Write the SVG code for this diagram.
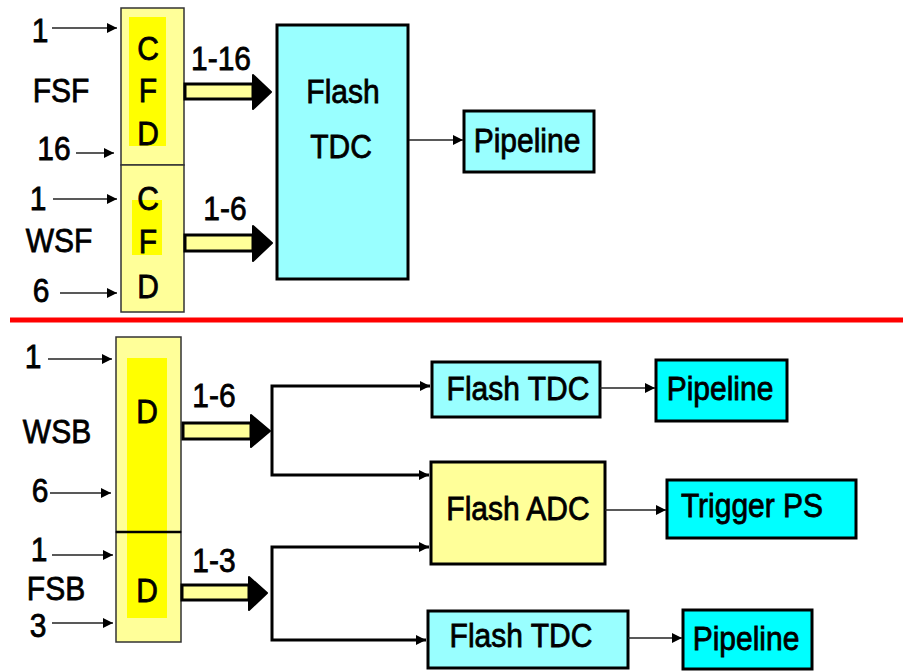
<svg xmlns="http://www.w3.org/2000/svg" width="903" height="671" viewBox="0 0 903 671">
<defs>
<style>
.t{font-family:"Liberation Sans",Arial,sans-serif;font-size:30px;fill:#000;stroke:#000;stroke-width:0.7px;text-anchor:middle}
.outer{fill:#ffff99;stroke:#333;stroke-width:1.5}
.inner{fill:#ffff00;stroke:none}
.cyanL{fill:#99ffff;stroke:#000;stroke-width:3}
.cyan{fill:#00ffff;stroke:#000;stroke-width:3}
.ylw{fill:#ffff99;stroke:#000;stroke-width:3}
.thin{fill:none;stroke:#222;stroke-width:1.6}
.wire{fill:none;stroke:#000;stroke-width:3}
.body{fill:#ffff99;stroke:#000;stroke-width:3}
.head{fill:#000;stroke:#000;stroke-width:2;stroke-linejoin:round}
</style>
<marker id="ah" markerUnits="userSpaceOnUse" markerWidth="11" markerHeight="10" refX="10" refY="5" orient="auto">
<path d="M0,0 L10,5 L0,10 z" fill="#000"/>
</marker>
</defs>
<rect width="903" height="671" fill="#fff"/>

<line x1="10" y1="320" x2="903" y2="320" stroke="#ff0000" stroke-width="5"/>

<g id="labels-top">
<text class="t" transform="translate(40,42) scale(1,1.12)">1</text>
<text class="t" transform="translate(61,102) scale(1,1.12)">FSF</text>
<text class="t" transform="translate(54,160) scale(1,1.12)">16</text>
<text class="t" transform="translate(38,210) scale(1,1.12)">1</text>
<text class="t" transform="translate(59,252) scale(1,1.12)">WSF</text>
<text class="t" transform="translate(41,302) scale(1,1.12)">6</text>
</g>

<g id="cfd-fsf">
<rect class="outer" x="121" y="8" width="63" height="157"/>
<rect class="inner" x="129" y="17" width="37" height="129"/>
<text class="t" transform="translate(148,60) scale(1,1.12)">C</text>
<text class="t" transform="translate(148,102) scale(1,1.12)">F</text>
<text class="t" transform="translate(148,145) scale(1,1.12)">D</text>
</g>
<g id="cfd-wsf">
<rect class="outer" x="121" y="165" width="63" height="147"/>
<rect class="inner" x="132" y="200" width="30" height="55"/>
<text class="t" transform="translate(148,210) scale(1,1.12)">C</text>
<text class="t" transform="translate(148,253) scale(1,1.12)">F</text>
<text class="t" transform="translate(148,298) scale(1,1.12)">D</text>
</g>

<g id="flash-tdc-top">
<rect class="cyanL" x="277" y="25" width="131" height="254"/>
<text class="t" transform="translate(343,103) scale(1,1.12)">Flash</text>
<text class="t" transform="translate(341,158) scale(1,1.12)">TDC</text>
</g>
<g id="pipeline-top">
<rect class="cyanL" x="464" y="111" width="130" height="61"/>
<text class="t" transform="translate(527,152) scale(1,1.12)">Pipeline</text>
</g>

<g id="labels-bottom">
<text class="t" transform="translate(33,368) scale(1,1.12)">1</text>
<text class="t" transform="translate(57,443) scale(1,1.12)">WSB</text>
<text class="t" transform="translate(40,502) scale(1,1.12)">6</text>
<text class="t" transform="translate(39,561) scale(1,1.12)">1</text>
<text class="t" transform="translate(56,600) scale(1,1.12)">FSB</text>
<text class="t" transform="translate(38,637) scale(1,1.12)">3</text>
</g>

<g id="d-wsb">
<rect class="outer" x="116" y="337" width="65" height="195"/>
<rect class="inner" x="127" y="358" width="40" height="174"/>
<text class="t" transform="translate(147,423) scale(1,1.12)">D</text>
</g>
<g id="d-fsb">
<rect class="outer" x="116" y="532" width="65" height="110"/>
<rect class="inner" x="127" y="533" width="40" height="85"/>
<text class="t" transform="translate(147,602) scale(1,1.12)">D</text>
<line x1="116" y1="532" x2="181" y2="532" stroke="#000" stroke-width="2.5"/>
</g>

<g id="flash-tdc-1">
<rect class="cyanL" x="432" y="362" width="168" height="55"/>
<text class="t" transform="translate(518,400) scale(1,1.12)">Flash TDC</text>
</g>
<g id="pipeline-1">
<rect class="cyan" x="656" y="360" width="131" height="61"/>
<text class="t" transform="translate(720,400) scale(1,1.12)">Pipeline</text>
</g>
<g id="flash-adc">
<rect class="ylw" x="431" y="462" width="174" height="102"/>
<text class="t" transform="translate(518,520) scale(1,1.12)">Flash ADC</text>
</g>
<g id="trigger-ps">
<rect class="cyan" x="667" y="480" width="189" height="58"/>
<text class="t" transform="translate(752,517) scale(1,1.12)">Trigger PS</text>
</g>
<g id="flash-tdc-2">
<rect class="cyanL" x="428" y="611" width="200" height="57"/>
<text class="t" transform="translate(521,647) scale(1,1.12)">Flash TDC</text>
</g>
<g id="pipeline-2">
<rect class="cyan" x="683" y="610" width="129" height="59"/>
<text class="t" transform="translate(746,650) scale(1,1.12)">Pipeline</text>
</g>

<g id="connectors">
<line class="thin" x1="52" y1="28" x2="117" y2="28" marker-end="url(#ah)"/>
<line class="thin" x1="76" y1="153" x2="114" y2="153" marker-end="url(#ah)"/>
<line class="thin" x1="53" y1="199" x2="117" y2="199" marker-end="url(#ah)"/>
<line class="thin" x1="60" y1="293" x2="117" y2="293" marker-end="url(#ah)"/>
<line class="thin" x1="48" y1="359" x2="112" y2="359" marker-end="url(#ah)"/>
<line class="thin" x1="50" y1="493" x2="111" y2="493" marker-end="url(#ah)"/>
<line class="thin" x1="52" y1="555" x2="113" y2="555" marker-end="url(#ah)"/>
<line class="thin" x1="52" y1="623" x2="113" y2="623" marker-end="url(#ah)"/>

<g id="bus-1-16">
<rect class="body" x="185" y="84" width="68" height="15"/>
<polygon class="head" points="253,75 271,92 253,109"/>
<text class="t" transform="translate(221,70) scale(1,1.12)">1-16</text>
</g>
<g id="bus-1-6-top">
<rect class="body" x="185" y="235" width="68" height="16"/>
<polygon class="head" points="253,226 272,243 253,261"/>
<text class="t" transform="translate(225,220) scale(1,1.12)">1-6</text>
</g>
<g id="bus-1-6-bottom">
<rect class="body" x="183" y="423" width="68" height="16"/>
<polygon class="head" points="251,415 270,431 251,447"/>
<text class="t" transform="translate(214,407) scale(1,1.12)">1-6</text>
</g>
<g id="bus-1-3">
<rect class="body" x="182" y="585" width="67" height="15"/>
<polygon class="head" points="249,577 267,593 249,610"/>
<text class="t" transform="translate(214,572) scale(1,1.12)">1-3</text>
</g>

<line class="thin" x1="409" y1="140" x2="463" y2="140" marker-end="url(#ah)"/>

<path class="wire" d="M272,431 V386 H430" marker-end="url(#ah)"/>
<path class="wire" d="M272,431 V475 H429" marker-end="url(#ah)"/>
<path class="wire" d="M272,593 V547 H429" marker-end="url(#ah)"/>
<path class="wire" d="M272,593 V640 H426" marker-end="url(#ah)"/>

<line class="thin" x1="600" y1="388" x2="655" y2="388" stroke-width="2" marker-end="url(#ah)"/>
<line class="thin" x1="605" y1="510" x2="666" y2="510" stroke-width="2" marker-end="url(#ah)"/>
<line class="thin" x1="628" y1="638" x2="682" y2="638" stroke-width="2" marker-end="url(#ah)"/>
</g>
</svg>
